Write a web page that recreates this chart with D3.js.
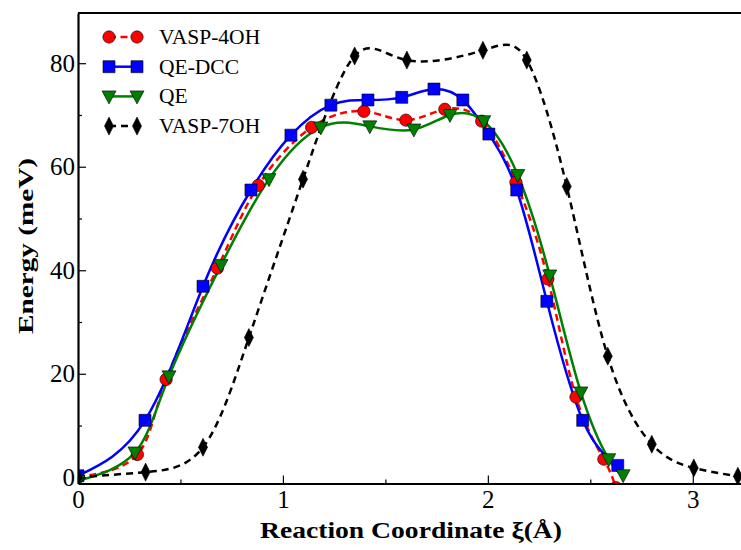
<!DOCTYPE html>
<html><head><meta charset="utf-8">
<script src="https://cdn.jsdelivr.net/npm/d3@7"></script>
<style>body{margin:0;background:#fff}svg{display:block}</style>
</head><body><svg id="c" width="741" height="550"></svg>
<script>
// ---- data ----
const vasp4X = [0, 0.29, 0.43, 0.68, 0.88, 1.14, 1.395, 1.60, 1.79, 1.97, 2.137, 2.293, 2.43, 2.566, 2.625];
const vasp4Y = [0, 4.4, 18.9, 40.4, 56.4, 67.6, 70.7, 69.0, 71.1, 68.8, 57.0, 38.3, 15.5, 3.5, -2.0];
const qedccX = [0, 0.327, 0.61, 0.844, 1.039, 1.234, 1.415, 1.58, 1.737, 1.878, 2.005, 2.141, 2.288, 2.463, 2.634];
const qedccY = [0.3, 11.0, 36.9, 55.5, 66.1, 71.9, 72.9, 73.4, 75.0, 72.9, 66.3, 55.5, 34.0, 11.0, 2.3];
const qeX = [0, 0.278, 0.444, 0.698, 0.932, 1.185, 1.424, 1.639, 1.815, 1.98, 2.146, 2.302, 2.454, 2.59, 2.66];
const qeY = [-0.7, 4.8, 19.5, 41.0, 57.6, 67.6, 67.8, 67.2, 70.0, 68.8, 58.4, 39.0, 16.4, 3.5, 0.4];
const vasp7X = [0, 0.33, 0.61, 0.834, 1.098, 1.35, 1.605, 1.976, 2.19, 2.385, 2.585, 2.8, 3.005, 3.22];
const vasp7Y = [0, 1.0, 5.8, 27.0, 57.6, 81.4, 80.6, 82.5, 80.6, 56.2, 23.4, 6.4, 1.8, 0.2];
const seriesNames = ["VASP-4OH", "QE-DCC", "QE", "VASP-7OH"];
const xTicks = [0, 1, 2, 3];
const yTicks = [0, 20, 40, 60, 80];

// ---- layout ----
const svg = d3.select("#c");
const L = 78, R = 744, T = 13, B = 483.5;
const x = d3.scaleLinear().domain([0, 3.25]).range([L, R]);
const y = d3.scaleLinear().domain([-1.2, 89.7]).range([B, T]);

const defs = svg.append("defs");
defs.append("clipPath").attr("id", "clip").append("rect")
  .attr("x", L).attr("y", T).attr("width", R - L).attr("height", B - T);

const styles = [
  {X: vasp4X, Y: vasp4Y, color: "#ff0000", dash: "7,4.5", marker: "circle"},
  {X: qedccX, Y: qedccY, color: "#0000ff", dash: null, marker: "square"},
  {X: qeX, Y: qeY, color: "#008000", dash: null, marker: "tri"},
  {X: vasp7X, Y: vasp7Y, color: "#000000", dash: "7,5", marker: "diamond"}
];

function markerPath(type) {
  if (type === "circle") return d3.symbol(d3.symbolCircle, 120)();
  if (type === "square") return "M-6,-6H6V6H-6Z";
  if (type === "tri") return "M-7,-5.5H7L0,7.5Z";
  if (type === "diamond") return "M0,-9L4.5,0L0,9L-4.5,0Z";
}

const line = d3.line().curve(d3.curveNatural);
const plot = svg.append("g").attr("clip-path", "url(#clip)");

styles.forEach((s, i) => {
  const pts = s.X.map((v, j) => [x(v), y(s.Y[j])]);
  plot.append("path").attr("d", line(pts)).attr("fill", "none")
    .attr("stroke", s.color).attr("stroke-width", 2.5)
    .attr("stroke-dasharray", s.dash);
});
styles.forEach((s, i) => {
  const pts = s.X.map((v, j) => [x(v), y(s.Y[j])]);
  plot.selectAll(null).data(pts).enter().append("path")
    .attr("d", markerPath(s.marker))
    .attr("transform", d => `translate(${d[0]},${d[1]})`)
    .attr("fill", s.color).attr("stroke", "#000").attr("stroke-width", 0.6);
});

// ---- axes ----
const ax = svg.append("g");
const xAxis = d3.axisBottom(x).tickValues(xTicks).tickSizeInner(-8).tickSizeOuter(0).tickPadding(7).tickFormat(d3.format("d"));
ax.append("g").attr("transform", `translate(0,${B})`).call(xAxis);
const xMinor = d3.axisBottom(x).tickValues([0.5, 1.5, 2.5]).tickSizeInner(-4).tickSizeOuter(0).tickFormat("");
ax.append("g").attr("transform", `translate(0,${B})`).call(xMinor).select(".domain").remove();
const yAxis = d3.axisLeft(y).tickValues(yTicks).tickSizeInner(-8).tickSizeOuter(0).tickPadding(3).tickFormat(d3.format("d"));
ax.append("g").attr("transform", `translate(${L},0)`).call(yAxis);
const yMinor = d3.axisLeft(y).tickValues([10, 30, 50, 70]).tickSizeInner(-4).tickSizeOuter(0).tickFormat("");
ax.append("g").attr("transform", `translate(${L},0)`).call(yMinor).select(".domain").remove();
ax.selectAll(".domain").attr("stroke", "#000").attr("stroke-width", 2.2);
ax.selectAll(".tick line").attr("stroke", "#000").attr("stroke-width", 1.2);
ax.selectAll(".tick text").attr("font-family", "Liberation Serif").attr("font-size", 25).attr("fill", "#000");
// top spine
ax.append("line").attr("x1", L).attr("x2", R).attr("y1", T).attr("y2", T).attr("stroke", "#000").attr("stroke-width", 2.2);

// ---- labels ----
svg.append("text").attr("x", 411).attr("y", 538).attr("text-anchor", "middle")
  .attr("font-family", "Liberation Serif").attr("font-weight", "bold").attr("font-size", 23)
  .attr("textLength", 302).attr("lengthAdjust", "spacingAndGlyphs")
  .text("Reaction Coordinate ξ(Å)");
svg.append("text").attr("transform", "translate(33,246) rotate(-90)").attr("text-anchor", "middle")
  .attr("font-family", "Liberation Serif").attr("font-weight", "bold").attr("font-size", 22)
  .attr("textLength", 176).attr("lengthAdjust", "spacingAndGlyphs")
  .text("Energy (meV)");

// ---- legend ----
const leg = svg.append("g");
styles.forEach((s, i) => {
  const cy = 37 + i * 29.7;
  const g = leg.append("g");
  g.append("line").attr("x1", 109).attr("x2", 137).attr("y1", cy).attr("y2", cy)
    .attr("stroke", s.color).attr("stroke-width", 2.5).attr("stroke-dasharray", s.dash);
  [109, 137].forEach(mx => g.append("path").attr("d", markerPath(s.marker))
    .attr("transform", `translate(${mx},${cy})`).attr("fill", s.color).attr("stroke", "#000").attr("stroke-width", 0.6));
  g.append("text").attr("x", 159).attr("y", cy + 7).attr("font-family", "Liberation Serif")
    .attr("font-size", 21.5).text(seriesNames[i]);
});
</script></body></html>
